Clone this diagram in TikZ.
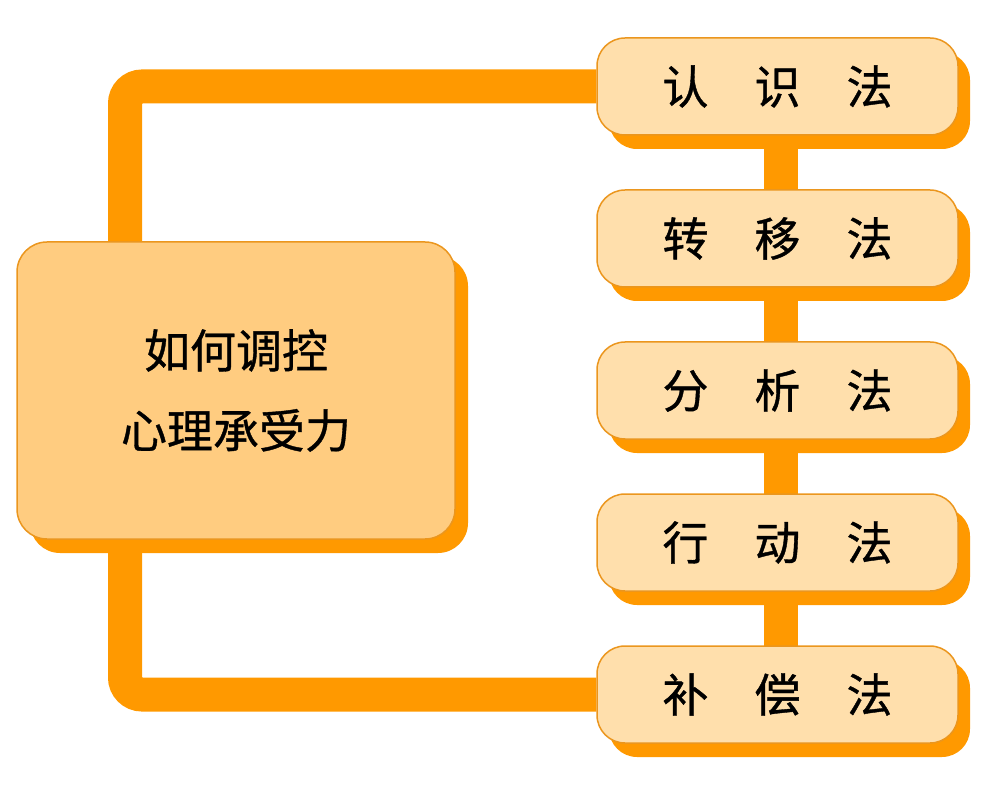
\documentclass[tikz,border=0pt]{standalone}
\usepackage{fontspec}
\setmainfont{Noto Sans CJK SC}[FakeBold=0.8]
\usepackage{tikz}
\usetikzlibrary{positioning,shadows,backgrounds}
\definecolor{barorange}{RGB}{255,153,0}
\definecolor{edgeorange}{RGB}{235,150,30}
\definecolor{mainfill}{RGB}{255,204,128}
\definecolor{stepfill}{RGB}{255,223,172}
\tikzset{
	bar/.style={draw=barorange,line width=34pt,rounded corners=17pt},
	mainbox/.style={rectangle,rounded corners=30pt,draw=edgeorange,line width=1.5pt,fill=mainfill,
		minimum width=438pt,minimum height=297pt,align=center,
		font=\fontsize{46}{80}\selectfont,
		drop shadow={shadow xshift=13pt,shadow yshift=-14pt,opacity=1,fill=barorange}},
	way/.style={rectangle,rounded corners=28pt,draw=edgeorange,line width=1.5pt,fill=stepfill,
		minimum width=361pt,minimum height=97pt,
		font=\fontsize{46}{55}\selectfont,
		drop shadow={shadow xshift=12pt,shadow yshift=-14pt,opacity=1,fill=barorange}}
}
\begin{document}
\begin{tikzpicture}[x=1pt,y=1pt,node distance=53.5pt]
\useasboundingbox (0,0) rectangle (1004,-791);
\node[way] (s1) at (777.5,-86.5) {认\quad 识\quad 法};
\node[way] (s2) [below=of s1] {转\quad 移\quad 法};
\node[way] (s3) [below=of s2] {分\quad 析\quad 法};
\node[way] (s4) [below=of s3] {行\quad 动\quad 法};
\node[way] (s5) [below=of s4] {补\quad 偿\quad 法};
\node[mainbox] (main) [left=140.5pt of s3] {如何调控\\心理承受力};
\coordinate (spine) at (125,0);
% connectors behind the boxes
\begin{scope}[on background layer]
\draw[bar] (main.north -| spine) |- (s1.west);
\draw[bar] (main.south -| spine) |- (s5.west);
\draw[bar,rounded corners=0pt] ([xshift=3pt]s1.center) -- ([xshift=3pt]s5.center);
\end{scope}
\end{tikzpicture}
\end{document}
